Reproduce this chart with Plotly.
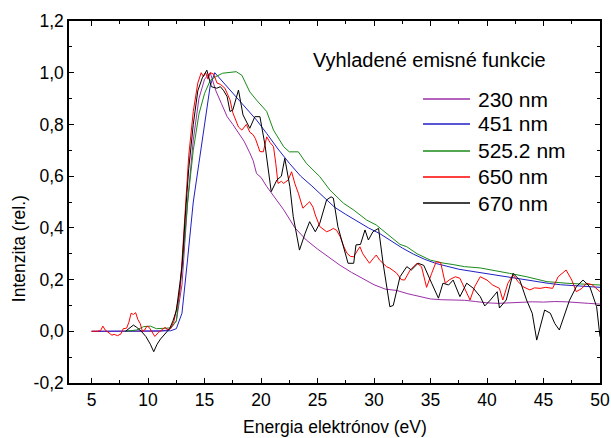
import plotly.graph_objects as go

# Smoothed emission functions: electron energy (eV) vs relative intensity
x_230 = [5, 6, 7, 8, 9, 10, 11, 11.5, 12, 12.5, 13, 13.5, 14, 14.5, 15, 15.5, 16, 16.5, 17, 17.5,
         18, 18.5, 19, 19.3, 19.6, 20, 20.5, 21, 22, 23, 24, 25, 26, 27, 28, 29, 30, 31, 32, 33,
         34, 35, 36, 37, 38, 39, 40, 41, 42, 43, 44, 45, 46, 47, 48, 49, 50]
y_230 = [0, 0, 0, 0, 0, 0, 0, 0.003, 0.01, 0.04, 0.18, 0.5, 0.74, 0.9, 0.975, 1.0, 0.93, 0.88, 0.83, 0.8,
         0.765, 0.735, 0.69, 0.66, 0.61, 0.595, 0.56, 0.53, 0.47, 0.4, 0.353, 0.318, 0.285, 0.255, 0.228, 0.205, 0.18, 0.163, 0.158, 0.145,
         0.135, 0.125, 0.122, 0.12, 0.12, 0.115, 0.11, 0.108, 0.11, 0.112, 0.114, 0.113, 0.115, 0.114, 0.11, 0.108, 0.105]

x_451 = [5, 8, 10, 11, 12, 12.5, 13, 13.5, 14, 14.5, 15, 15.5, 15.9, 16.5, 17, 17.8, 18.7, 19.6, 20.5, 21.5,
         22.5, 23.5, 24.5, 25.5, 26.5, 27.5, 28.5, 29.5, 30.5, 31.5, 32.5, 33.5, 34.5, 35.5, 36.5, 37.5, 38.5, 39.5, 40.5, 41.5,
         42.5, 43.5, 44.5, 45.5, 46.5, 47.5, 48.5, 49.5, 50]
y_451 = [0, 0, 0, 0, 0.002, 0.01, 0.07, 0.28, 0.5, 0.65, 0.8, 0.95, 1.0, 0.97, 0.946, 0.907, 0.862, 0.817, 0.765, 0.705,
         0.65, 0.6, 0.562, 0.52, 0.48, 0.452, 0.425, 0.4, 0.378, 0.35, 0.322, 0.298, 0.278, 0.262, 0.25, 0.24, 0.233, 0.226, 0.218, 0.211,
         0.204, 0.197, 0.19, 0.185, 0.18, 0.177, 0.174, 0.172, 0.17]

x_525 = [8, 9, 9.6, 10.2, 10.75, 11.5, 12, 12.5, 13, 13.5, 14, 14.5, 15, 15.5, 16, 16.6, 17.2, 17.8, 18.3, 19.0,
         19.6, 20.5, 21.1, 22.0, 22.5, 23.3, 24.0, 25.2, 26.1, 27.3, 28.2, 29.35, 30.2, 31.4, 32.3, 32.9, 33.8, 35.0, 36.1, 37.0,
         38.0, 39.4, 40.5, 42.0, 43.5, 45.3, 47.0, 48.5, 50]
y_525 = [0, 0.005, 0.018, 0.02, 0.01, 0.012, 0.013, 0.04, 0.24, 0.5, 0.7, 0.84, 0.92, 0.97, 0.985, 0.998, 1.0, 1.004, 0.99, 0.926,
         0.894, 0.85, 0.778, 0.714, 0.694, 0.694, 0.65, 0.598, 0.546, 0.495, 0.469, 0.43, 0.411, 0.366, 0.336, 0.327, 0.3, 0.275, 0.264, 0.258,
         0.25, 0.245, 0.235, 0.224, 0.211, 0.192, 0.186, 0.182, 0.179]

x_650 = [5.0, 5.5, 5.8, 6.0, 6.2, 6.5, 6.8, 7.0, 7.3, 7.6, 7.8, 8.1, 8.3, 8.5, 8.7, 8.9, 9.1, 9.3, 9.5, 9.7,
         9.9, 10.1, 10.3, 10.6, 10.9, 11.2, 11.5, 11.8, 12.0, 12.3, 12.6, 12.8, 13.0, 13.3, 13.6, 14.0, 14.4, 14.7, 14.9, 15.1,
         15.3, 15.5, 15.8, 16.1, 16.4, 16.8, 17.0, 17.25, 17.5, 17.8, 18.0, 18.3, 18.5, 18.7, 19.0, 19.3, 19.5, 19.9, 20.2, 20.5,
         20.8, 21.1, 21.3, 21.5, 21.8, 22.0, 22.4, 22.7, 23.0, 23.3, 23.7, 24.0, 24.3, 24.6, 24.8, 25.2, 25.5, 25.8, 26.1, 26.4,
         26.7, 27.0, 27.3, 27.6, 27.9, 28.2, 28.5, 28.75, 29.0, 29.2, 29.6, 29.9, 30.2, 30.5, 30.8, 31.1, 31.4, 32.0, 32.4, 32.7,
         33.2, 33.8, 34.2, 34.65, 35.1, 35.5, 35.9, 36.3, 36.7, 37.2, 37.6, 38.0, 38.5, 38.9, 39.4, 40.0, 40.5, 41.1, 41.4, 41.85,
         42.3, 42.75, 43.2, 43.8, 44.2, 44.7, 45.2, 45.8, 46.3, 47.0, 47.5, 47.9, 48.4, 48.8, 49.3, 50.0]
y_650 = [0.0, 0.0, 0.003, 0.02, 0.005, -0.005, -0.015, -0.012, -0.017, -0.01, 0.01, 0.012, 0.035, 0.07, 0.065, 0.072, 0.045, 0.03, 0.0, 0.005,
         0.02, 0.015, 0.0, -0.02, -0.005, 0.005, 0.015, 0.005, 0.012, 0.04, 0.1, 0.15, 0.27, 0.47, 0.68, 0.85, 0.96, 1.0, 0.985, 1.0,
         0.975, 1.0, 0.995, 0.96, 0.955, 0.94, 0.92, 0.895, 0.845, 0.815, 0.79, 0.778, 0.79, 0.8, 0.77, 0.76, 0.745, 0.695, 0.694, 0.752,
         0.73, 0.714, 0.65, 0.572, 0.58, 0.572, 0.585, 0.617, 0.57, 0.534, 0.476, 0.49, 0.501, 0.48, 0.45, 0.405, 0.395, 0.385, 0.39, 0.398,
         0.39, 0.366, 0.33, 0.302, 0.29, 0.288, 0.31, 0.327, 0.3, 0.288, 0.263, 0.28, 0.295, 0.275, 0.263, 0.25, 0.244, 0.225, 0.2, 0.198,
         0.237, 0.263, 0.25, 0.17, 0.224, 0.269, 0.265, 0.186, 0.2, 0.211, 0.205, 0.166, 0.121, 0.172, 0.211, 0.198, 0.179, 0.166, 0.121, 0.186,
         0.218, 0.192, 0.172, 0.16, 0.168, 0.166, 0.17, 0.166, 0.211, 0.237, 0.198, 0.153, 0.166, 0.186, 0.18, 0.153]

x_670 = [8.0, 8.3, 8.7, 9.0, 9.4, 9.8, 10.2, 10.5, 10.8, 11.1, 11.5, 11.9, 12.2, 12.5, 12.8, 13.0, 13.3, 13.6, 14.0, 14.4,
         14.8, 15.2, 15.6, 16.07, 16.4, 16.7, 17.0, 17.25, 17.5, 17.8, 18.0, 18.4, 19.0, 19.45, 19.9, 20.35, 20.9, 21.4, 21.8, 22.1,
         22.55, 22.85, 23.4, 23.9, 24.3, 24.8, 25.2, 25.8, 26.2, 26.4, 26.8, 27.7, 28.2, 28.4, 28.8, 29.2, 29.5, 29.9, 30.4, 30.8,
         31.4, 31.7, 32.3, 32.9, 33.3, 33.9, 34.4, 35.1, 35.7, 36.1, 36.6, 37.0, 37.6, 38.2, 38.8, 39.4, 39.8, 40.3, 40.9, 41.1,
         41.7, 42.3, 42.9, 43.5, 44.0, 44.4, 45.1, 45.6, 46.0, 46.4, 46.9, 47.3, 47.9, 48.5, 49.1, 49.7, 50.0]
y_670 = [0.0, 0.01, 0.024, 0.015, 0.0, -0.02, -0.05, -0.079, -0.05, -0.03, -0.01, 0.01, 0.04, 0.08, 0.18, 0.25, 0.45, 0.63, 0.8, 0.93,
         0.98, 1.01, 0.946, 0.94, 0.946, 0.93, 0.907, 0.85, 0.856, 0.9, 0.933, 0.837, 0.785, 0.83, 0.83, 0.72, 0.54, 0.585, 0.6, 0.669,
         0.559, 0.443, 0.314, 0.379, 0.424, 0.385, 0.418, 0.508, 0.52, 0.515, 0.405, 0.263, 0.263, 0.334, 0.336, 0.392, 0.353, 0.385, 0.398, 0.263,
         0.095, 0.1, 0.211, 0.25, 0.237, 0.263, 0.255, 0.186, 0.128, 0.186, 0.179, 0.198, 0.134, 0.186, 0.166, 0.134, 0.098, 0.121, 0.153, 0.09,
         0.121, 0.224, 0.198, 0.121, 0.07, -0.034, 0.082, 0.07, 0.03, 0.005, 0.07, 0.12, 0.172, 0.198, 0.172, 0.095, -0.021]

series_names = ["230 nm", "451 nm", "525.2 nm", "650 nm", "670 nm"]
series_colors = ["#9a2fa6", "#1f1fc4", "#1a8a1a", "#ff0000", "#000000"]
series_x = [x_230, x_451, x_525, x_650, x_670]
series_y = [y_230, y_451, y_525, y_650, y_670]

y_tick_values = [-0.2, 0.0, 0.2, 0.4, 0.6, 0.8, 1.0, 1.2]
y_tick_labels = ["-0,2", "0,0", "0,2", "0,4", "0,6", "0,8", "1,0", "1,2"]
x_tick_values = [5, 10, 15, 20, 25, 30, 35, 40, 45, 50]

FONT = "Liberation Sans, Arial, sans-serif"
TICK_SIZE = 17.5

fig = go.Figure()
for name, color, xs, ys in zip(series_names, series_colors, series_x, series_y):
    fig.add_trace(go.Scatter(x=xs, y=ys, mode="lines", name=name, showlegend=False,
                             line=dict(color=color, width=1)))

axis_common = dict(
    showline=True, linecolor="black", linewidth=1.5, mirror="allticks",
    ticks="inside", ticklen=5, tickwidth=1, tickcolor="black",
    showgrid=False, zeroline=False, automargin=False,
    tickfont=dict(family=FONT, size=TICK_SIZE, color="black"),
)

fig.update_xaxes(
    range=[3, 50], tickvals=x_tick_values,
    minor=dict(ticks="inside", ticklen=3, tickcolor="black", dtick=2.5, tick0=2.5, showgrid=False),
    **axis_common,
)
fig.update_yaxes(
    range=[-0.2, 1.2], tickvals=y_tick_values, ticktext=y_tick_labels,
    minor=dict(ticks="inside", ticklen=3, tickcolor="black", dtick=0.1, tick0=0, showgrid=False),
    **axis_common,
)

# Axis titles, placed explicitly
fig.add_annotation(
    text="Energia elektrónov (eV)", xref="paper", yref="paper",
    x=0.5, y=-0.1215, xanchor="center", yanchor="middle", showarrow=False,
    font=dict(family=FONT, size=TICK_SIZE, color="black"),
)
fig.add_annotation(
    text="Intenzita (rel.)", xref="paper", yref="paper",
    x=-0.094, y=0.37, xanchor="center", yanchor="middle", textangle=-90, showarrow=False,
    font=dict(family=FONT, size=TICK_SIZE, color="black"),
)

# Legend block: heading, line samples and labels
fig.add_annotation(
    text="Vyhladené emisné funkcie", xref="paper", yref="paper",
    x=0.456, y=0.892, xanchor="left", yanchor="middle", showarrow=False,
    font=dict(family=FONT, size=20, color="black"),
)
legend_rows = [0.7845, 0.7155, 0.6409, 0.5691, 0.4972]
for name, color, ry in zip(series_names, series_colors, legend_rows):
    fig.add_shape(type="line", xref="paper", yref="paper",
                  x0=0.6667, x1=0.7552, y0=ry, y1=ry,
                  line=dict(color=color, width=1.5))
    fig.add_annotation(
        text=name, xref="paper", yref="paper",
        x=0.7665, y=ry, xanchor="left", yanchor="middle", showarrow=False,
        font=dict(family=FONT, size=21, color="black"),
    )

fig.update_layout(
    width=611, height=438,
    margin=dict(l=69, r=11, t=21, b=55),
    paper_bgcolor="white", plot_bgcolor="white",
    separators=", ",
    showlegend=False,
)

fig.write_html("out.html")
